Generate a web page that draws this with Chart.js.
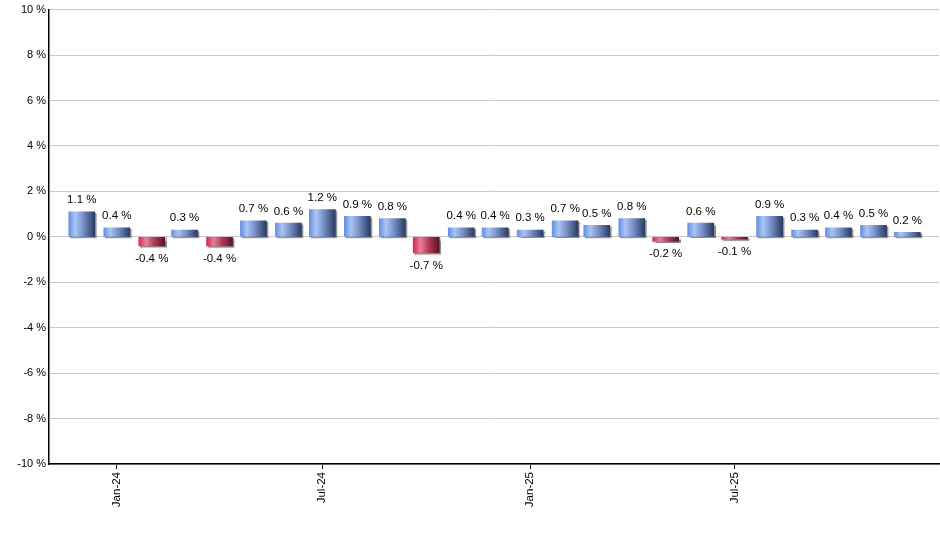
<!DOCTYPE html>
<html>
<head>
<meta charset="utf-8">
<script src="https://cdn.jsdelivr.net/npm/chart.js@4.4.1/dist/chart.umd.min.js"></script>
<style>
html, body { margin: 0; padding: 0; background: #fff; }
#wrap { width: 940px; height: 550px; }
</style>
</head>
<body>
<div id="wrap"><canvas id="myChart"></canvas></div>
<script>
// monthly change, Dec-23 .. Dec-25
var months = ['Dec-23','Jan-24','Feb-24','Mar-24','Apr-24','May-24','Jun-24','Jul-24','Aug-24','Sep-24','Oct-24','Nov-24','Dec-24',
              'Jan-25','Feb-25','Mar-25','Apr-25','May-25','Jun-25','Jul-25','Aug-25','Sep-25','Oct-25','Nov-25','Dec-25']
var changes = [1.1, 0.4, -0.4, 0.3, -0.4, 0.7, 0.6, 1.2, 0.9, 0.8, -0.7, 0.4, 0.4,
               0.3, 0.7, 0.5, 0.8, -0.2, 0.6, -0.1, 0.9, 0.3, 0.4, 0.5, 0.2]
var tickMonths = ['Jan-24', 'Jul-24', 'Jan-25', 'Jul-25']
var yTicks = [-10, -8, -6, -4, -2, 0, 2, 4, 6, 8, 10]

var barW = 26
var FONT = '"Liberation Sans", Arial, sans-serif'
var MON = ['Jan','Feb','Mar','Apr','May','Jun','Jul','Aug','Sep','Oct','Nov','Dec']

// x axis runs in days (the months are not all the same length)
function dayOf(label) {
    var p = label.split('-')
    return Date.UTC(2000 + parseInt(p[1], 10), MON.indexOf(p[0]), 1) / 86400000
}

var points = []
for (var i = 0; i < months.length; i++) {
    points.push({x: dayOf(months[i]), y: changes[i]})
}
var xMin = dayOf('Dec-23') - 29
var xMax = dayOf('Dec-25') + 28

function barFill(c) {
    var chart = c.chart
    var xs = chart.scales.x
    var fallback = (c.raw && c.raw.y < 0) ? '#c83a58' : '#7a98d8'
    if (!xs || !c.raw) return fallback
    var cx = xs.getPixelForValue(c.raw.x)
    if (!isFinite(cx)) return fallback
    var g = chart.ctx.createLinearGradient(cx - barW / 2, 0, cx + barW / 2, 0)
    if (c.raw.y >= 0) {
        g.addColorStop(0, '#658fe4')
        g.addColorStop(0.25, '#a9c5f6')
        g.addColorStop(0.55, '#7891c8')
        g.addColorStop(1, '#2a3b62')
    } else {
        g.addColorStop(0, '#d42c4e')
        g.addColorStop(0.28, '#e97e95')
        g.addColorStop(0.6, '#b03a55')
        g.addColorStop(1, '#5e1024')
    }
    return g
}

var shadowPlugin = {
    id: 'barShadow',
    beforeDatasetsDraw: function(chart) {
        var ctx = chart.ctx
        ctx.save()
        ctx.shadowColor = 'rgba(0,0,0,0.45)'
        ctx.shadowOffsetX = 1.5
        ctx.shadowOffsetY = 1.5
        ctx.shadowBlur = 1
    },
    afterDatasetsDraw: function(chart) {
        chart.ctx.restore()
    }
}

var valueLabels = {
    id: 'valueLabels',
    afterDatasetsDraw: function(chart) {
        var ctx = chart.ctx
        var meta = chart.getDatasetMeta(0)
        ctx.save()
        ctx.font = '11.5px ' + FONT
        ctx.fillStyle = '#000'
        ctx.textAlign = 'center'
        meta.data.forEach(function(bar, i) {
            var v = changes[i]
            var txt = v.toFixed(1) + ' %'
            if (v >= 0) {
                ctx.textBaseline = 'bottom'
                ctx.fillText(txt, bar.x, bar.y - 6)
            } else {
                ctx.textBaseline = 'top'
                ctx.fillText(txt, bar.x, bar.y + 7)
            }
        })
        ctx.restore()
    }
}

var myChart = document.getElementById('myChart').getContext('2d')
var chart = new Chart(myChart, {
    type: 'bar',
    data: {
        datasets: [{
            data: points,
            backgroundColor: barFill,
            borderWidth: 0,
            barThickness: barW
        }]
    },
    options: {
        responsive: true,
        maintainAspectRatio: false,
        animation: false,
        devicePixelRatio: 1,
        layout: { padding: { top: 9, right: 1, left: 0, bottom: 0 } },
        plugins: { legend: { display: false }, tooltip: { enabled: false } },
        scales: {
            x: {
                type: 'linear',
                offset: false,
                min: xMin,
                max: xMax,
                afterBuildTicks: function(axis) {
                    axis.ticks = tickMonths.map(function(m) { return {value: dayOf(m)} })
                },
                afterFit: function(axis) { axis.height = 86 },
                ticks: {
                    autoSkip: false,
                    minRotation: 90,
                    maxRotation: 90,
                    padding: 3,
                    color: '#000',
                    font: { family: FONT, size: 11.5 },
                    callback: function(v) { return tickMonths[tickMonths.map(dayOf).indexOf(v)] }
                },
                grid: { display: true, offset: false, drawOnChartArea: false, drawTicks: true, tickLength: 5, color: '#000' },
                border: { display: true, color: '#000', width: 1.5 }
            },
            y: {
                min: -10,
                max: 10,
                afterBuildTicks: function(axis) {
                    axis.ticks = yTicks.map(function(v) { return {value: v} })
                },
                afterFit: function(axis) { axis.width = 49 },
                ticks: {
                    padding: 3,
                    color: '#000',
                    font: { family: FONT, size: 11 },
                    callback: function(v) { return v + ' %' }
                },
                grid: { color: '#c8c8c8', lineWidth: 1, drawTicks: false },
                border: { display: true, color: '#000', width: 1.5 }
            }
        }
    },
    plugins: [shadowPlugin, valueLabels]
})
</script>
</body>
</html>
